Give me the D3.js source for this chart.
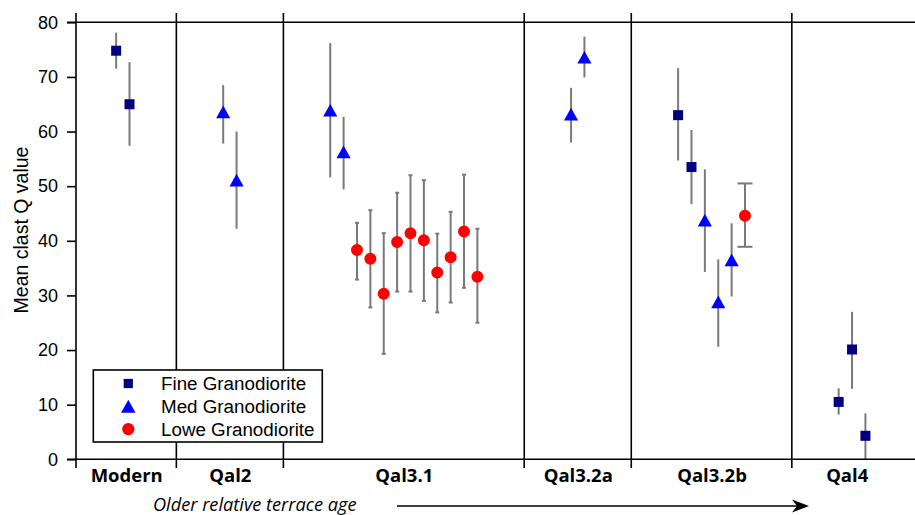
<!DOCTYPE html>
<html><head><meta charset="utf-8">
<script src="https://cdn.jsdelivr.net/npm/d3@7"></script>
<style>body{margin:0;background:#fff}</style>
</head><body><svg id="c" width="915" height="515"></svg>
<script>
// ---------- data ----------
const groups = ["Modern", "Qal2", "Qal3.1", "Qal3.2a", "Qal3.2b", "Qal4"];
const groupEdges = [0, 7.5, 15.5, 33.5, 41.5, 53.5, 61.7];
const yTicks = [0, 10, 20, 30, 40, 50, 60, 70, 80];
const seriesNames = ["Fine Granodiorite", "Med Granodiorite", "Lowe Granodiorite"];
const yAxisTitle = "Mean clast Q value";
const xAxisTitle = "Older relative terrace age";

const fineSlot = [3, 4, 45, 46, 57, 58, 59];
const fineMean = [74.8, 65.0, 63.0, 53.5, 10.5, 20.1, 4.3];
const fineLow  = [71.5, 57.4, 54.7, 46.7, 8.2, 12.9, 0];
const fineHigh = [78.1, 72.7, 71.6, 60.3, 13.0, 27.0, 8.4];

const medSlot = [11, 12, 19, 20, 37, 38, 47, 48, 49];
const medMean = [63.6, 51.1, 63.9, 56.3, 63.2, 73.6, 43.8, 28.8, 36.5];
const medLow  = [57.8, 42.2, 51.6, 49.4, 58.0, 69.9, 34.3, 20.6, 29.8];
const medHigh = [68.5, 60.0, 76.2, 62.7, 68.0, 77.4, 53.1, 36.6, 43.2];

const loweSlot = [21, 22, 23, 24, 25, 26, 27, 28, 29, 30, 50];
const loweMean = [38.3, 36.7, 30.3, 39.8, 41.4, 40.1, 34.2, 37.0, 41.7, 33.4, 44.6];
const loweLow  = [32.9, 27.8, 19.3, 30.7, 30.7, 29.0, 26.9, 28.7, 31.4, 25.0, 38.9];
const loweHigh = [43.3, 45.6, 41.4, 48.8, 52.0, 51.1, 41.3, 45.3, 52.1, 42.2, 50.5];

// ---------- styles ----------
const colors = ["#000080", "#0000ff", "#ff0000"];
const errColor = "#7a7a7a";
const capByGroup = {"Qal3.1": 4, "Qal3.2b": 15};
const sansFont = "'Liberation Sans', Arial, sans-serif";
const labelFont = "'Open Sans', 'Lato', sans-serif";

// triangle centred on its bounding box
const triBox = {
  draw(ctx, size) {
    const s = Math.sqrt(size), h = s * 0.9;
    ctx.moveTo(0, -h / 2); ctx.lineTo(s / 2, h / 2); ctx.lineTo(-s / 2, h / 2); ctx.closePath();
  }
};
const symbolTypes = [d3.symbolSquare, triBox, d3.symbolCircle];
const symbolSizes = [100, 200, 113];

function build(slot, mean, low, high) {
  return slot.map((s, i) => ({slot: s, mean: mean[i], low: low[i], high: high[i],
    group: groups[Math.min(groups.length - 1, d3.bisectRight(groupEdges, s) - 1)]}));
}
const series = [
  build(fineSlot, fineMean, fineLow, fineHigh),
  build(medSlot, medMean, medLow, medHigh),
  build(loweSlot, loweMean, loweLow, loweHigh)
];

// ---------- scales ----------
const svg = d3.select("#c");
const x = d3.scaleLinear().domain([0, 63]).range([76, 76 + 63 * 13.38]);
const y = d3.scaleLinear().domain([0, 80]).range([459.3, 22.3]);
const yTop = 13, yBot = 468;

// error bars (behind markers)
const eb = svg.append("g").attr("stroke", errColor).attr("stroke-width", 2);
series.forEach(data => {
  data.forEach(d => {
    eb.append("line").attr("x1", x(d.slot)).attr("x2", x(d.slot))
      .attr("y1", y(d.high)).attr("y2", y(d.low));
    const cw = capByGroup[d.group];
    if (cw && data === series[2]) {
      [d.high, d.low].forEach(v => eb.append("line")
        .attr("x1", x(d.slot) - cw / 2).attr("x2", x(d.slot) + cw / 2)
        .attr("y1", y(v)).attr("y2", y(v)));
    }
  });
});

// frame lines
const frame = svg.append("g").attr("stroke", "#000").attr("stroke-width", 1.6);
frame.append("line").attr("x1", 67).attr("x2", 915).attr("y1", y(80)).attr("y2", y(80));
frame.append("line").attr("x1", 67).attr("x2", 915).attr("y1", y(0)).attr("y2", y(0));
frame.selectAll("line.sep").data([0].concat(groupEdges.slice(1, -1))).join("line")
  .attr("class", "sep")
  .attr("x1", d => x(d)).attr("x2", d => x(d)).attr("y1", yTop).attr("y2", yBot);

// y axis
const yAx = svg.append("g").attr("transform", `translate(${x(0)},0)`)
  .call(d3.axisLeft(y).tickValues(yTicks).tickSize(9).tickPadding(9));
yAx.select(".domain").remove();
yAx.selectAll("line").attr("stroke-width", 1.6);
yAx.selectAll("text").attr("font-family", sansFont).attr("font-size", 18).attr("fill", "#000");

// category labels
const mids = groups.map((g, i) => (groupEdges[i] + groupEdges[i + 1]) / 2);
const xAx = svg.append("g").attr("transform", `translate(0,${y(0)})`)
  .call(d3.axisBottom(x).tickValues(mids).tickSize(0).tickPadding(10)
    .tickFormat((d, i) => groups[i]));
xAx.select(".domain").remove();
xAx.selectAll("text").attr("font-family", labelFont).attr("font-weight", 700)
  .attr("font-size", 18.5).attr("fill", "#000").attr("dy", null).attr("y", 23);

// markers
series.forEach((data, k) => {
  svg.append("g").selectAll("path").data(data).join("path")
    .attr("transform", d => `translate(${x(d.slot)},${y(d.mean)})`)
    .attr("d", d3.symbol().type(symbolTypes[k]).size(symbolSizes[k]))
    .attr("fill", colors[k]);
});

// legend
const lg = svg.append("g");
lg.append("rect").attr("x", 93.3).attr("y", 370).attr("width", 229).attr("height", 72)
  .attr("fill", "#fff").attr("stroke", "#000").attr("stroke-width", 1.6);
seriesNames.forEach((name, k) => {
  const cy = 383.5 + k * 22.8;
  lg.append("path").attr("transform", `translate(128.3,${cy})`)
    .attr("d", d3.symbol().type(symbolTypes[k]).size(k === 0 ? 85 : symbolSizes[k] * 1.05))
    .attr("fill", colors[k]);
  lg.append("text").attr("x", 161).attr("y", cy + 6.5).text(name)
    .attr("font-family", sansFont).attr("font-size", 18.8).attr("fill", "#000");
});

// y title
svg.append("text").attr("transform", "translate(28,230) rotate(-90)")
  .attr("text-anchor", "middle").text(yAxisTitle)
  .attr("font-family", sansFont).attr("font-size", 19.5).attr("fill", "#000");

// x title + arrow
svg.append("text").attr("x", 153).attr("y", 511).text(xAxisTitle)
  .attr("font-family", labelFont).attr("font-style", "italic").attr("font-size", 18.2).attr("fill", "#000");
svg.append("line").attr("x1", 397).attr("x2", 800).attr("y1", 506).attr("y2", 506)
  .attr("stroke", "#000").attr("stroke-width", 1.6);
svg.append("path").attr("d", "M809,506 L792,499.5 L797,506 L792,512.5 Z").attr("fill", "#000");
</script></body></html>
